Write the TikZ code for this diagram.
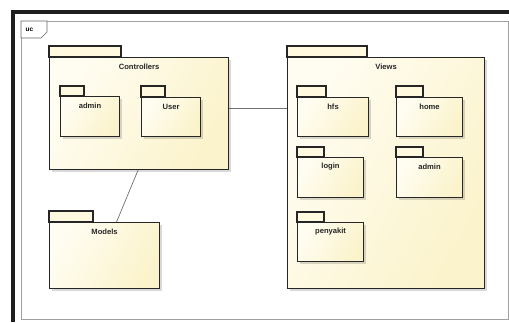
\documentclass[tikz,border=0pt]{standalone}
\usepackage{fontspec}
\setmainfont{Liberation Sans}
\usetikzlibrary{shadows,calc}
\definecolor{pkgA}{HTML}{FFFDF2}
\definecolor{pkgB}{HTML}{FBF3CB}
\definecolor{pkgtabfill}{HTML}{FEF9DF}
\definecolor{pkgline}{HTML}{262626}
\definecolor{frameg}{HTML}{A0A0A0}
\definecolor{conn}{HTML}{707070}
\tikzset{
  pkgbody/.style={draw=pkgline, line width=1.1pt, inner sep=0pt, anchor=north west,
    left color=pkgA, right color=pkgB, shading angle=60,
    drop shadow={shadow xshift=2pt, shadow yshift=-2pt, opacity=0.15, fill=black}},
  pkgtab/.style={draw=pkgline, line width=1.1pt, fill=pkgtabfill},
  pkglabel/.style={font=\bfseries\fontsize{7.6}{9}\selectfont, text=black!85, inner sep=0pt},
  connline/.style={draw=conn, line width=0.7pt},
}
% \pkgbox{name}{x}{y}{w}{h}{tabw}{tabh}{label}
\newcommand{\pkgbox}[8]{%
  \draw[pkgtab] (#2,#3) rectangle ++(#6,-#7);
  \node[pkgbody, minimum width=#4pt, minimum height=#5pt] (#1) at (#2,#3) {};
  \node[pkglabel] (#1-lbl) at ([yshift=-10pt]#1.north) {#8};
}
\begin{document}
\begin{tikzpicture}[x=1pt,y=-1pt]
\useasboundingbox (0,0) rectangle (509,322);
\fill[white] (0,0) rectangle (509,322);
% outer frame
\draw[line width=3.5pt, draw=black!88] (13,322) -- (13,12) -- (509,12);
\draw[draw=frameg, line width=0.8pt] (21,21) rectangle (508,319);
% uc tab
\draw[draw=black!60, line width=0.7pt, fill=white] (21,21) -- (47,21) -- (47,32) -- (41,38) -- (21,38) -- cycle;
\node[font=\bfseries\fontsize{6.5}{8}\selectfont, inner sep=0pt] (uc) at (29.5,29.5) {uc};
% packages
\pkgbox{ctrl}{49}{57}{179}{112}{72}{11}{Controllers}
\pkgbox{cadmin}{60}{96}{59}{40}{24}{10}{admin}
\pkgbox{cuser}{141}{97}{59}{39}{24}{11}{User}
\pkgbox{models}{49}{222}{110}{66}{44}{11}{Models}
\pkgbox{views}{287}{57}{197}{231}{80}{11}{Views}
\pkgbox{hfs}{297}{97}{71}{39}{29}{11}{hfs}
\pkgbox{home}{396}{97}{66}{39}{27}{11}{home}
\pkgbox{login}{297}{157}{66}{40}{27}{10}{login}
\pkgbox{vadmin}{396}{157}{66}{40}{27}{10}{admin}
\pkgbox{penyakit}{297}{222}{66}{39}{27}{10}{penyakit}
% connectors
\draw[connline] ([yshift=5pt]ctrl.east) -- ([yshift=5pt]ctrl.east -| views.west);
\draw[connline] ([xshift=-1pt]ctrl.south) -- ([xshift=12pt]models.north);
\end{tikzpicture}
\end{document}
